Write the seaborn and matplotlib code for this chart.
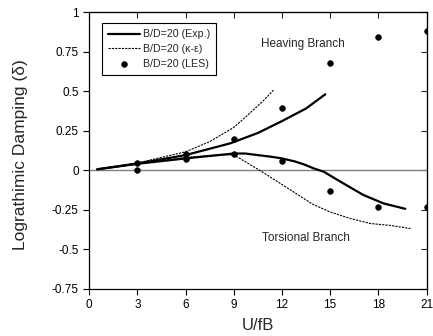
import matplotlib
matplotlib.use("Agg")
import matplotlib.pyplot as plt
import seaborn as sns

# Experimental curves (solid)
heave_exp_x = [0.5, 3, 6, 8.8, 10.5, 12, 13.5, 14.7]
heave_exp_y = [0.005, 0.042, 0.095, 0.17, 0.235, 0.31, 0.39, 0.48]
tors_exp_x = [0.5, 3, 6, 9, 9.7, 10.5, 11.3, 12.0, 12.8, 13.4, 14.0, 14.6, 15.84, 17.08, 18.33, 19.68]
tors_exp_y = [0.005, 0.04, 0.074, 0.105, 0.105, 0.095, 0.085, 0.074, 0.055, 0.035, 0.01, -0.01, -0.085, -0.158, -0.211, -0.245]

# k-epsilon curves (dashed)
heave_ke_x = [0.5, 3, 6, 7.5, 9, 10, 10.95, 11.47]
heave_ke_y = [0.005, 0.045, 0.116, 0.18, 0.27, 0.36, 0.45, 0.506]
tors_ke_x = [0.5, 3, 6, 8, 9, 10.75, 12.6, 13.9, 15.0, 16.25, 17.5, 18.75, 20.0]
tors_ke_y = [0.005, 0.04, 0.08, 0.096, 0.097, -0.01, -0.13, -0.215, -0.265, -0.306, -0.338, -0.35, -0.37]

# LES points
les_x = [3, 3, 6, 6, 9, 9, 12, 12, 15, 15, 18, 18, 21, 21]
les_y = [0.042, 0.0, 0.1, 0.07, 0.195, 0.105, 0.39, 0.055, 0.675, -0.13, 0.84, -0.235, 0.88, -0.235]

x_ticks = [0, 3, 6, 9, 12, 15, 18, 21]
y_ticks = [-0.75, -0.5, -0.25, 0, 0.25, 0.5, 0.75, 1]
y_tick_labels = ["-0.75", "-0.5", "-0.25", "0", "0.25", "0.5", "0.75", "1"]

sns.set_style("ticks")
plt.rcParams['font.family'] = ['Liberation Sans', 'DejaVu Sans']

fig = plt.figure(figsize=(4.33, 3.36), dpi=100)
ax = fig.add_axes([0.206, 0.141, 0.779, 0.823])

ax.axhline(0, color="#808080", lw=1.0, zorder=1)

sns.lineplot(x=heave_exp_x, y=heave_exp_y, sort=False, color="black", lw=1.6, ax=ax,
             label="B/D=20 (Exp.)")
sns.lineplot(x=tors_exp_x, y=tors_exp_y, sort=False, color="black", lw=1.6, ax=ax)
sns.lineplot(x=heave_ke_x, y=heave_ke_y, sort=False, color="black", lw=0.8, ax=ax,
             label="B/D=20 (\u03ba-\u03b5)")
ax.lines[-1].set_dashes([2, 1])
sns.lineplot(x=tors_ke_x, y=tors_ke_y, sort=False, color="black", lw=0.8, ax=ax)
ax.lines[-1].set_dashes([2, 1])
sns.scatterplot(x=les_x, y=les_y, color="black", s=18, edgecolor="black", ax=ax,
                label="B/D=20 (LES)", zorder=5)

ax.set_xlim(0, 21)
ax.set_ylim(-0.75, 1)
ax.set_xticks(x_ticks)
ax.set_yticks(y_ticks)
ax.set_yticklabels(y_tick_labels)
ax.tick_params(direction="out", length=4, width=0.8, labelsize=8.5, colors="black")

for s in ax.spines.values():
    s.set_visible(True)
    s.set_color("black")
    s.set_linewidth(0.9)

top = ax.secondary_xaxis("top")
top.set_xticks(x_ticks)
top.tick_params(direction="in", length=4, width=0.8, labeltop=False)
right = ax.secondary_yaxis("right")
right.set_yticks(y_ticks)
right.tick_params(direction="in", length=4, width=0.8, labelright=False)

ax.set_xlabel("U/fB", fontsize=12)
ax.set_ylabel("Lograthimic Damping (\u03b4)", fontsize=12.5)
ax.xaxis.set_label_coords(0.5, -0.105)
ax.yaxis.set_label_coords(-0.182, 0.486)

ax.text(13.3, 0.80, "Heaving Branch", fontsize=8.5, ha="center", va="center")
ax.text(13.5, -0.43, "Torsional Branch", fontsize=8.5, ha="center", va="center")

leg = ax.legend(loc="upper left", bbox_to_anchor=(0.037, 0.959), borderaxespad=0,
                fontsize=7.7, frameon=True, fancybox=False, handlelength=3.0,
                borderpad=0.55, labelspacing=0.45, handletextpad=0.3)
leg.get_frame().set_edgecolor("black")
leg.get_frame().set_linewidth(0.8)
leg.get_frame().set_alpha(1)

fig.savefig("out.png", dpi=100)
